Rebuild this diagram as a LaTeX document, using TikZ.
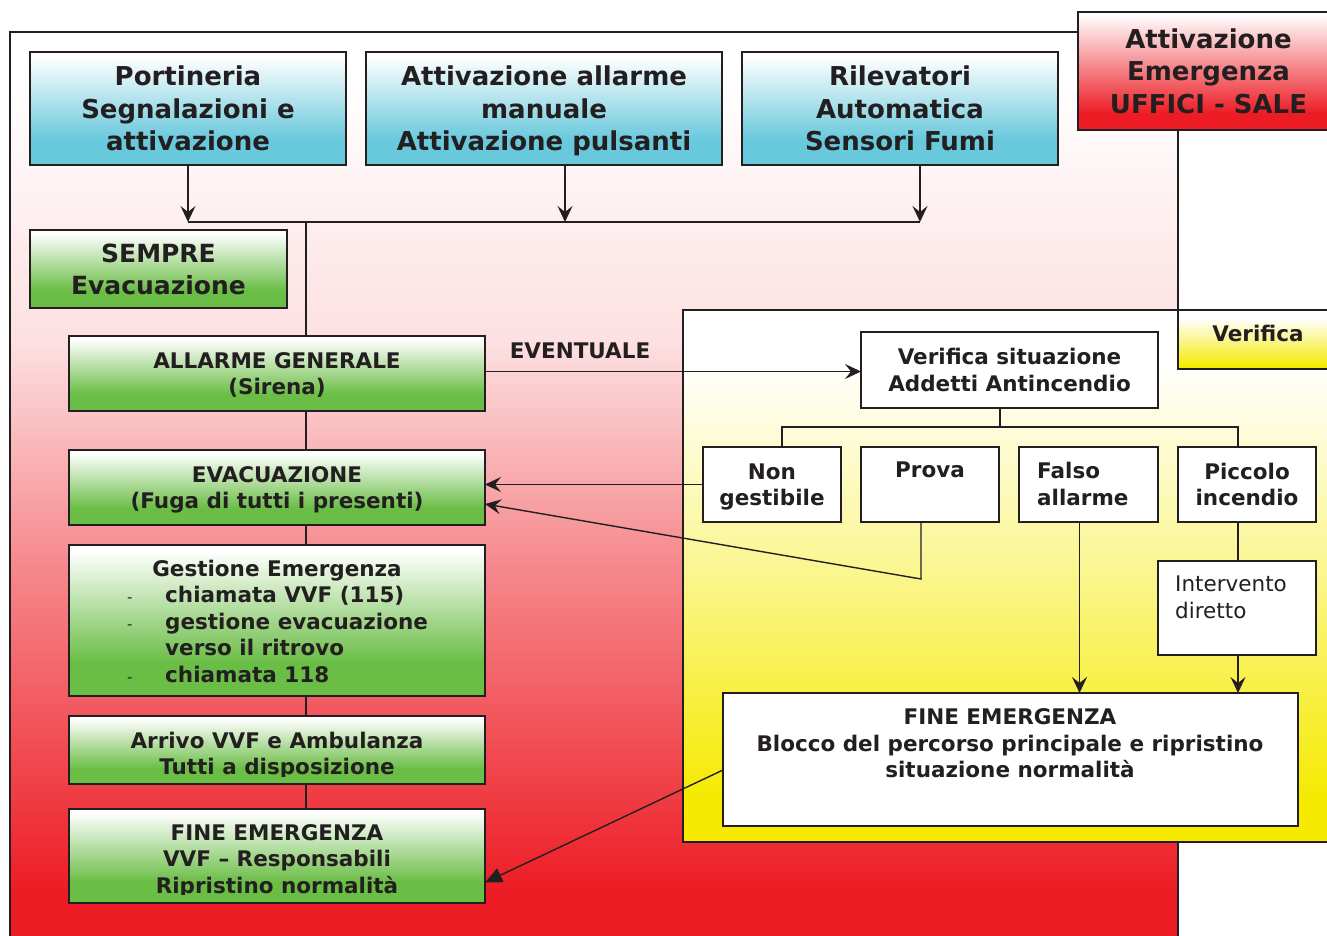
\documentclass[tikz,border=0pt]{standalone}
\usepackage{fontspec}
\setmainfont{DejaVu Sans}
\usetikzlibrary{arrows.meta,calc}
\definecolor{dk}{HTML}{231F20}
\definecolor{cy}{HTML}{68C8DC}
\definecolor{gr}{HTML}{6ABD45}
\definecolor{rd}{HTML}{ED1C24}
\definecolor{yl}{HTML}{F5EA00}
\colorlet{rdA}{rd!52!white}
\colorlet{rdB}{rd!14!white}
\colorlet{ylA}{yl!45!white}
\pgfdeclareverticalshading{redregion}{100bp}{color(0bp)=(rd); color(28bp)=(rd); color(46bp)=(rdA); color(58bp)=(rdB); color(72bp)=(white); color(100bp)=(white)}
\pgfdeclareverticalshading{yelregion}{100bp}{color(0bp)=(yl); color(29bp)=(yl); color(50bp)=(ylA); color(70bp)=(white); color(100bp)=(white)}
\pgfdeclareverticalshading{yelbox}{100bp}{color(0bp)=(yl); color(27bp)=(yl); color(68bp)=(white); color(100bp)=(white)}
\pgfdeclareverticalshading{redbox}{100bp}{color(0bp)=(rd); color(32bp)=(rd); color(74bp)=(white); color(100bp)=(white)}
\pgfdeclareverticalshading{grbox}{100bp}{color(0bp)=(gr); color(36bp)=(gr); color(73bp)=(white); color(100bp)=(white)}
\pgfdeclareverticalshading{cybox}{100bp}{color(0bp)=(cy); color(36bp)=(cy); color(73bp)=(white); color(100bp)=(white)}
\begin{document}
\begin{tikzpicture}[x=1pt,y=-1pt,
  ln/.style={draw=dk, line width=1.4pt},
  arw/.style={ln, -{Stealth[length=16pt,width=15pt,inset=6pt]}},
  tri/.style={ln, -{Triangle[length=17pt,width=15pt]}},
  box/.style={draw=dk, line width=1.4pt, inner sep=0pt, outer sep=0pt, text=dk, align=center, text depth=0pt},
  txt/.style={text=dk, inner sep=0pt, text depth=0pt},
  big/.style={font=\bfseries\fontsize{26}{32.5}\selectfont},
  mid/.style={font=\bfseries\fontsize{25}{32}\selectfont},
  med/.style={font=\bfseries\fontsize{21.5}{26.5}\selectfont},
  reg/.style={font=\mdseries\fontsize{21.5}{27}\selectfont},
  cyb/.style={box, shading=cybox, big, minimum height=113pt},
  grb/.style={box, shading=grbox, med, minimum width=416pt},
  whb/.style={box, fill=white, med}
]
\useasboundingbox (0,0) rectangle (1327,936);
\clip (0,0) rectangle (1327,936);

% main (red) region
\path[shading=redregion] (10,32) rectangle (1178,948);
\draw[ln] (10,948) -- (10,32) -- (1078,32);
\draw[ln] (1178,842) -- (1178,948);

% verification (yellow) region
\path[shading=yelregion] (683,310) rectangle (1345,842);
\draw[ln] (1345,842) -- (683,842) -- (683,310) -- (1345,310);
\node[box, shading=yelbox, minimum width=167pt, minimum height=59pt] (ver) at (1261.5,339.5) {};
\node[txt, med] (verT) at (1258,333) {Verifica};

% red header box
\node[box, shading=redbox, big, minimum width=267pt, minimum height=118pt] (att) at (1211.5,71) {\hspace*{-6pt}Attivazione\\\hspace*{-6pt}Emergenza\\\hspace*{-6pt}UFFICI - SALE};
\draw[ln] (att.south -| ver.north west) -- (ver.north west);

% top boxes
\node[cyb, minimum width=316pt] (port) at (188,108.5) {Portineria\\Segnalazioni e\\attivazione};
\node[cyb, minimum width=356pt] (man) at (544,108.5) {Attivazione allarme\\manuale\\Attivazione pulsanti};
\node[cyb, minimum width=316pt] (ril) at (900,108.5) {Rilevatori\\Automatica\\Sensori Fumi};

\coordinate (b1) at (188,222);
\coordinate (b2) at (565,222);
\coordinate (b3) at (920,222);
\coordinate (sp) at (306,222);
\draw[arw] (port.south) -- (b1);
\draw[arw] (man.south -| b2) -- (b2);
\draw[arw] (ril.south -| b3) -- (b3);
\draw[ln] (b1) -- (b3);

% SEMPRE
\node[box, shading=grbox, mid, minimum width=257pt, minimum height=78pt] (semp) at (158.5,269) {SEMPRE\\Evacuazione};

% green column
\node[grb, minimum height=75pt] (all) at (277,373.5) {ALLARME GENERALE\\(Sirena)};
\node[grb, minimum height=75pt] (evac) at (277,487.5) {EVACUAZIONE\\(Fuga di tutti i presenti)};
\node[grb, minimum height=151pt] (gest) at (277,620.5) {};
\node[txt, med] (gestT) at (277,568) {Gestione Emergenza};
\node[txt, med, align=left, anchor=west] (gestL) at (127,634.5) {\makebox[38pt][l]{\mdseries\fontsize{15}{15}\selectfont -}chiamata VVF (115)\\
\makebox[38pt][l]{\mdseries\fontsize{15}{15}\selectfont -}gestione evacuazione\\
\makebox[38pt][l]{}verso il ritrovo\\
\makebox[38pt][l]{\mdseries\fontsize{15}{15}\selectfont -}chiamata 118};
\node[grb, minimum height=68pt] (arrv) at (277,750) {};
\begin{scope}
\clip (69,716) rectangle (485,776);
\node[txt, med, align=center] (arrT) at (277,753.5) {Arrivo VVF e Ambulanza\\Tutti a disposizione};
\end{scope}
\node[grb, minimum height=94pt] (fin) at (277,856) {};
\begin{scope}
\clip (69,809) rectangle (485,894);
\node[txt, med, align=center] (finT) at (277,859) {FINE EMERGENZA\\VVF -- Responsabili\\Ripristino normalità};
\end{scope}

\draw[ln] (sp) -- (sp |- all.north);
\draw[ln] (all.south -| sp) -- (evac.north -| sp);
\draw[ln] (evac.south -| sp) -- (gest.north -| sp);
\draw[ln] (gest.south -| sp) -- (arrv.north -| sp);
\draw[ln] (arrv.south -| sp) -- (fin.north -| sp);

% verification side
\node[whb, minimum width=297pt, minimum height=76pt] (vs) at (1009.5,370) {Verifica situazione\\Addetti Antincendio};
\draw[arw] ([yshift=2pt]all.east) -- ([yshift=2pt]all.east -| vs.west);
\node[txt, med] (ev) at (580,351) {EVENTUALE};

\node[whb, minimum width=138pt, minimum height=75pt] (ng) at (772,484.5) {Non\\gestibile};
\node[whb, minimum width=138pt, minimum height=75pt] (prova) at (930,484.5) {};
\node[txt, med] (provT) at (930,470) {Prova};
\node[whb, minimum width=139pt, minimum height=75pt] (falso) at (1088.5,484.5) {};
\node[txt, med, align=left, anchor=west] (falT) at (1037,484) {Falso\\allarme};
\node[whb, minimum width=138pt, minimum height=75pt] (picc) at (1247,484.5) {Piccolo\\incendio};
\node[whb, minimum width=158pt, minimum height=94pt] (interv) at (1237,608) {};
\node[txt, reg, align=left, anchor=west] (intT) at (1175,597.5) {Intervento\\diretto};
\node[whb, minimum width=575pt, minimum height=133pt] (fr) at (1010.5,759.5) {};
\node[txt, med, align=center] (frT) at (1010,743.5) {FINE EMERGENZA\\Blocco del percorso principale e ripristino\\situazione normalità};

\coordinate (tj) at (1000,427);
\coordinate (tl) at (782,427);
\coordinate (tr) at (1238,427);
\coordinate (pv) at (921,579);
\coordinate (fa) at (1079.5,427);
\draw[ln] (vs.south -| tj) -- (tj);
\draw[ln] (tl |- ng.north) -- (tl) -- (tr) -- (tr |- picc.north);
\draw[arw] (ng.west) -- (ng.west -| evac.east);
\draw[arw] (prova.south -| pv) -- (pv) -- ([yshift=-16.5pt]evac.east);
\draw[arw] (falso.south -| fa) -- (fr.north -| fa);
\draw[ln] (picc.south -| tr) -- (interv.north -| tr);
\draw[arw] (interv.south -| tr) -- (fr.north -| tr);
\draw[tri] ([yshift=-10.5pt]fr.west) -- ([yshift=-26.5pt]fin.east);
\end{tikzpicture}
\end{document}
